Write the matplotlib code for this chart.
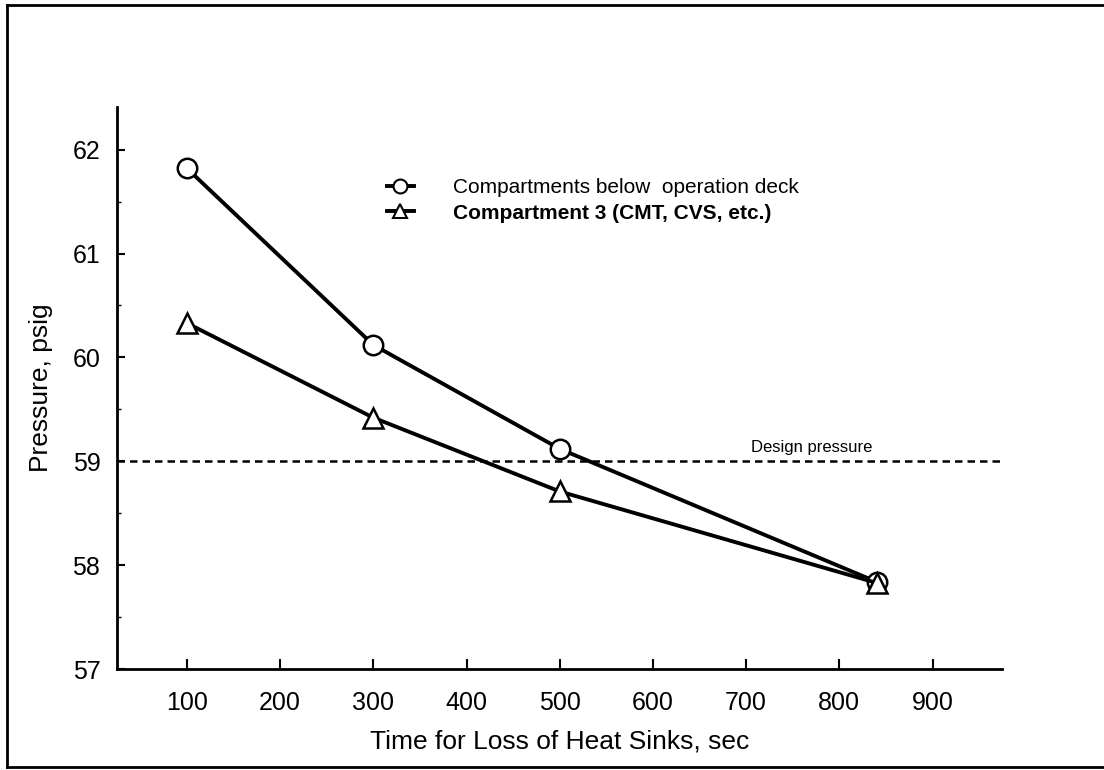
import matplotlib.pyplot as plt
from matplotlib.lines import Line2D

plt.rcParams['font.family'] = ['Liberation Sans', 'DejaVu Sans']

# loss-of-heat-sink timing vs peak pressure
time_sec = [100, 300, 500, 840]
below_deck = [61.82, 60.12, 59.12, 57.84]
comp3 = [60.33, 59.42, 58.71, 57.83]
design_pressure = 59.0

x_ticks = [100, 200, 300, 400, 500, 600, 700, 800, 900]
y_ticks = [57, 58, 59, 60, 61, 62]

fig = plt.figure(figsize=(11.04, 7.7), dpi=100)
ax = fig.add_axes([0.106, 0.131, 0.802, 0.730])

ax.plot(time_sec, below_deck, color='black', lw=2.8, marker='o', ms=14,
        mfc='white', mec='black', mew=1.8, zorder=3)
ax.plot(time_sec, comp3, color='black', lw=2.8, marker='^', ms=14,
        mfc='white', mec='black', mew=1.8, zorder=3)

ax.axhline(design_pressure, color='black', lw=1.8, ls=(0, (3, 2)), zorder=2)
ax.text(770, design_pressure + 0.06, 'Design pressure', ha='center',
        va='bottom', fontsize=12)

ax.set_xlim(25, 975)
ax.set_ylim(57, 62.41)
ax.set_xticks(x_ticks)
ax.set_yticks(y_ticks)
ax.set_yticks([57.5, 58.5, 59.5, 60.5, 61.5], minor=True)

for side in ['top', 'right']:
    ax.spines[side].set_visible(False)
for side in ['left', 'bottom']:
    ax.spines[side].set_linewidth(2)

ax.tick_params(axis='x', which='major', direction='in', length=7, width=1.5,
               pad=16, labelsize=18)
ax.tick_params(axis='y', which='major', direction='in', length=6, width=1.5,
               pad=12, labelsize=18)
ax.tick_params(axis='y', which='minor', direction='in', length=3, width=1)

ax.set_xlabel('Time for Loss of Heat Sinks, sec', fontsize=19, labelpad=10)
ax.set_ylabel('Pressure, psig', fontsize=19, labelpad=14)

handles = [
    Line2D([], [], color='black', lw=2.8, marker='o', ms=10, mfc='white',
           mec='black', mew=1.5),
    Line2D([], [], color='black', lw=2.8, marker='^', ms=10, mfc='white',
           mec='black', mew=1.5),
]
leg = ax.legend(handles, ['Compartments below  operation deck',
                          'Compartment 3 (CMT, CVS, etc.)'],
                loc='upper left', bbox_to_anchor=(0.295, 0.888), frameon=False,
                fontsize=15, handlelength=1.3, handletextpad=1.9,
                labelspacing=0.3, borderaxespad=0)
leg.get_texts()[1].set_fontweight('bold')

# outer frame (left, top, bottom)
frame_kw = dict(color='black', lw=2, transform=fig.transFigure)
fig.add_artist(Line2D([0.0065, 0.0065], [0.004, 0.993], **frame_kw))
fig.add_artist(Line2D([0.0065, 1.0], [0.993, 0.993], **frame_kw))
fig.add_artist(Line2D([0.0065, 1.0], [0.004, 0.004], **frame_kw))

fig.savefig('out.png', dpi=100)
